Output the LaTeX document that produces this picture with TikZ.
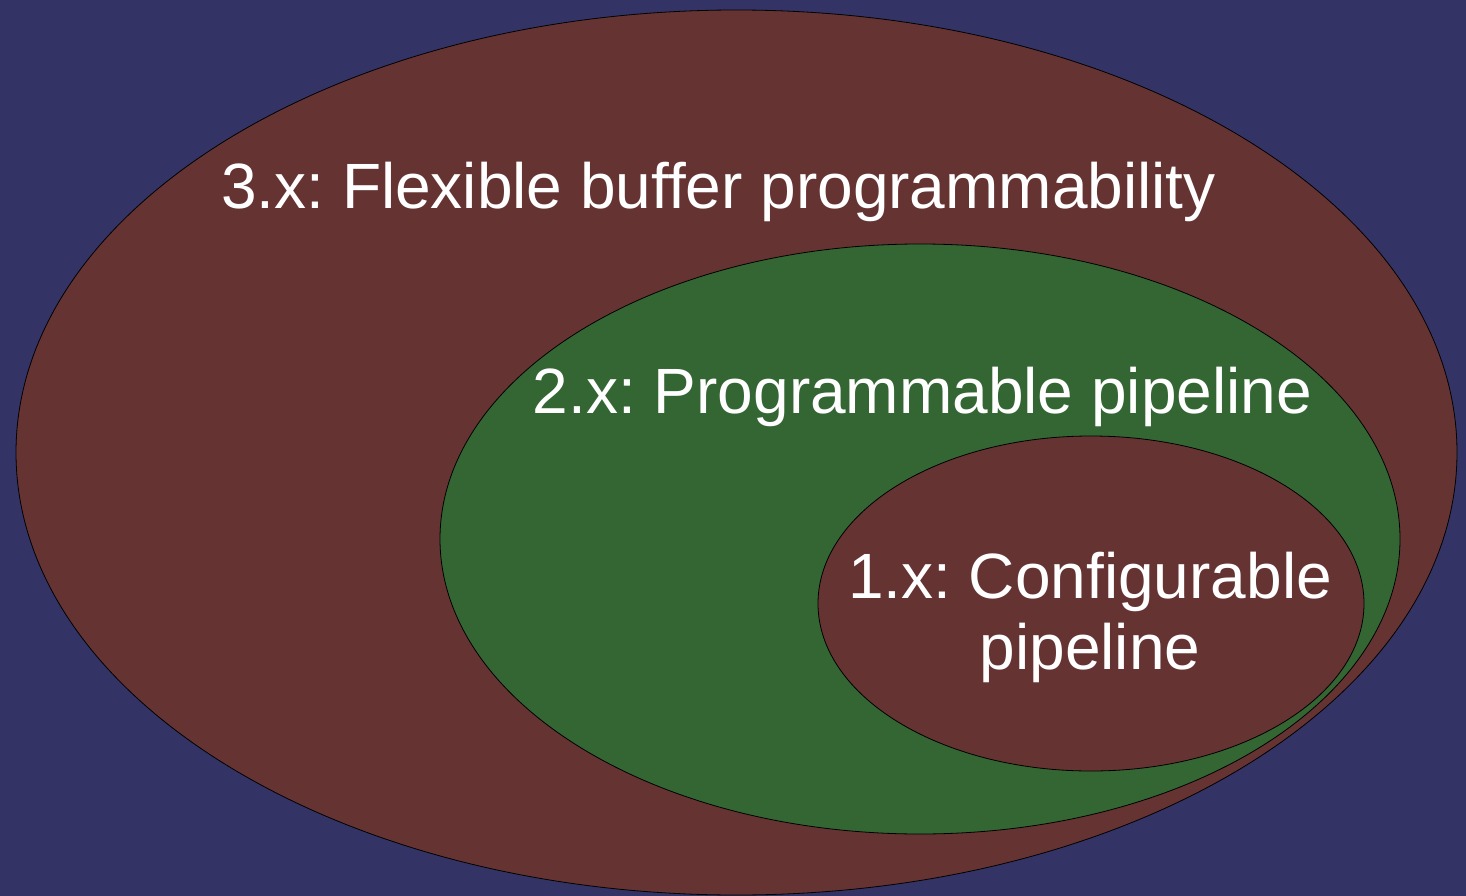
\documentclass[tikz,border=0pt]{standalone}
\usepackage{fontspec}
\setmainfont{Liberation Sans}
\frenchspacing
\definecolor{bgblue}{HTML}{333366}
\definecolor{maroon}{HTML}{663333}
\definecolor{leaf}{HTML}{336633}
\begin{document}
\begin{tikzpicture}[x=1pt,y=-1pt,
  level/.style={draw=black,line width=0.8pt},
  lbl/.style={text=white,font=\fontsize{64}{71}\selectfont,inner sep=0pt,align=center}]
\fill[bgblue] (0,0) rectangle (1466,896);
\useasboundingbox (0,0) rectangle (1466,896);
% nested version sets
\draw[level,fill=maroon] (736.5,452.5) ellipse [x radius=720.5,y radius=442.5];
\draw[level,fill=leaf] (920,539) ellipse [x radius=480,y radius=295];
\draw[level,fill=maroon] (1091,603.5) ellipse [x radius=273,y radius=167.5];
% labels
\node[lbl,anchor=base] (v3) at (718.5,208) {3.x: Flexible buffer programmability};
\node[lbl,anchor=base] (v2) at (922.5,413) {2.x: Programmable pipeline};
\node[lbl,anchor=base] (v1) at (1090,669) {1.x: Configurable\\pipeline};
\end{tikzpicture}
\end{document}
